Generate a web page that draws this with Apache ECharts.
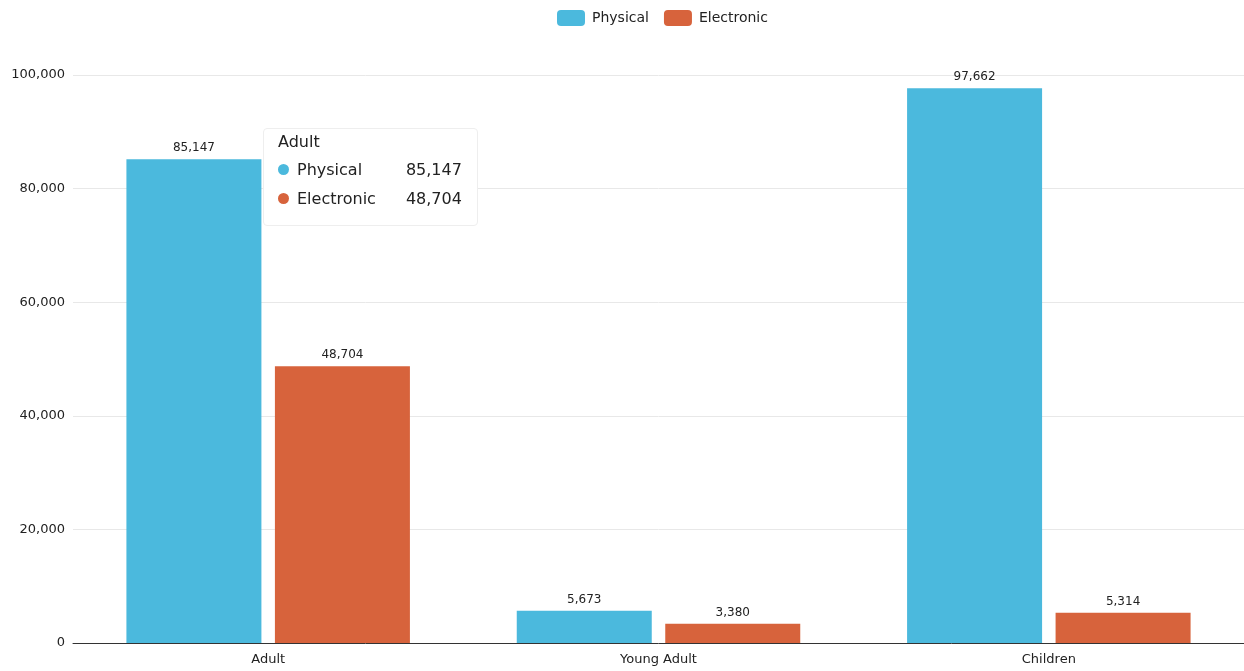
<!DOCTYPE html>
<html><head><meta charset="utf-8">
<script src="https://cdn.jsdelivr.net/npm/echarts@6/dist/echarts.min.js"></script>
<style>html,body{margin:0;padding:0;background:#fff}#c{width:1244px;height:671px}</style>
</head><body><div id="c"></div>
<script>
const categories = ["Adult", "Young Adult", "Children"];
const physical = [85147, 5673, 97662];
const electronic = [48704, 3380, 5314];
const yTicks = [0, 20000, 40000, 60000, 80000, 100000];

const FONT = "'DejaVu Sans', sans-serif";
const fmt = v => v.toLocaleString('en-US');
const chart = echarts.init(document.getElementById('c'));
chart.setOption({
  animation: false,
  textStyle: {fontFamily: FONT},
  legend: {top: 5, left: 552, itemWidth: 28, itemHeight: 16, itemGap: 15,
    icon: 'roundRect', textStyle: {fontSize: 14, color: '#222', fontFamily: FONT, padding: [0, 0, 0, 2]}},
  grid: {left: 73, right: -2, top: 75, bottom: 28, containLabel: false},
  tooltip: {trigger: 'axis', alwaysShowContent: true, axisPointer: {type: 'none'},
    position: [263, 128], backgroundColor: '#fff', borderColor: '#eee', borderWidth: 1,
    padding: [0, 15, 12, 14], extraCssText: 'box-shadow:none;border-radius:4px;',
    formatter: params => {
      let s = '<div style="font-family:DejaVu Sans,sans-serif;font-size:16px;color:#222;line-height:29px"><div style="line-height:26px">' + params[0].name + '</div>';
      params.forEach(p => {
        s += '<div style="display:flex;justify-content:space-between;gap:30px"><span><span style="display:inline-block;width:11px;height:11px;border-radius:6px;background:' + p.color + ';margin-right:8px"></span>' + p.seriesName + '</span><span>' + fmt(p.value) + '</span></div>';
      });
      return s + '</div>';
    }},
  xAxis: {type: 'category', data: categories,
    axisLine: {lineStyle: {color: '#333', width: 1}}, axisTick: {show: false},
    axisLabel: {fontSize: 13, color: '#222', margin: 10, fontFamily: FONT}},
  yAxis: {type: 'value', min: 0, max: 100000, interval: 20000,
    axisLabel: {fontSize: 13, color: '#222', margin: 8, fontFamily: FONT,
      formatter: v => yTicks.includes(v) ? fmt(v) : ''},
    splitLine: {lineStyle: {color: '#e8e8e8'}}},
  series: [
    {name: 'Physical', type: 'bar', data: physical, barWidth: 135, barGap: '10%',
      itemStyle: {color: '#4bb9dd'}, emphasis: {disabled: true},
      label: {show: true, position: 'top', fontSize: 12, color: '#222', formatter: p => fmt(p.value)}},
    {name: 'Electronic', type: 'bar', data: electronic, barWidth: 135,
      itemStyle: {color: '#d7633c'}, emphasis: {disabled: true},
      label: {show: true, position: 'top', fontSize: 12, color: '#222', formatter: p => fmt(p.value)}}
  ]
});
chart.dispatchAction({type: 'showTip', seriesIndex: 0, dataIndex: 0});
</script></body></html>
